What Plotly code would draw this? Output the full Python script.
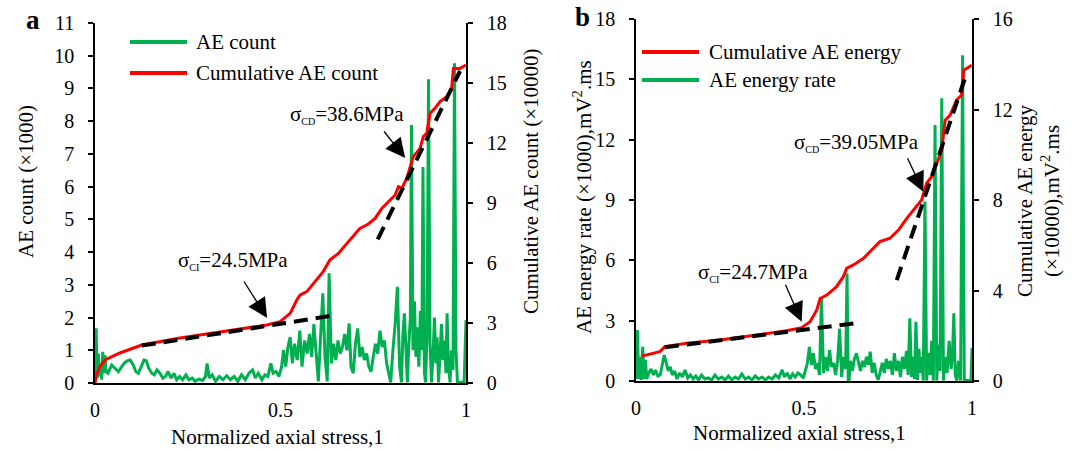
import plotly.graph_objects as go

# ---------------- Panel a: AE count ----------------
a_count_x = [0, 0.003, 0.006, 0.009, 0.012, 0.015, 0.018, 0.021, 0.024, 0.027, 0.03,
             0.035, 0.045, 0.055, 0.063, 0.072, 0.08, 0.088, 0.095, 0.103, 0.11, 0.117,
             0.125, 0.132, 0.138, 0.145, 0.153, 0.16, 0.167, 0.175, 0.183, 0.19, 0.197,
             0.205, 0.213, 0.22, 0.228, 0.236, 0.245, 0.253, 0.262, 0.27, 0.28, 0.29,
             0.298, 0.302, 0.308, 0.316, 0.325, 0.335, 0.345, 0.355, 0.365, 0.375, 0.385,
             0.395, 0.405, 0.415, 0.425, 0.432, 0.44, 0.45, 0.458, 0.466, 0.474, 0.48,
             0.488, 0.496, 0.503, 0.508, 0.514, 0.52, 0.526, 0.532, 0.538, 0.545, 0.552,
             0.558, 0.565, 0.572, 0.578, 0.584, 0.59, 0.596, 0.602, 0.608, 0.614, 0.62,
             0.626, 0.631, 0.637, 0.643, 0.649, 0.655, 0.661, 0.667, 0.673, 0.679, 0.685,
             0.69, 0.696, 0.702, 0.708, 0.714, 0.72, 0.726, 0.732, 0.738, 0.744, 0.75,
             0.756, 0.762, 0.768, 0.774, 0.78, 0.786, 0.792, 0.797, 0.803, 0.809, 0.815,
             0.821, 0.826, 0.83, 0.834, 0.838, 0.842, 0.846, 0.85, 0.853, 0.857, 0.861,
             0.865, 0.869, 0.873, 0.877, 0.881, 0.884, 0.888, 0.891, 0.895, 0.899, 0.903,
             0.907, 0.911, 0.915, 0.919, 0.922, 0.926, 0.93, 0.934, 0.938, 0.942, 0.946,
             0.949, 0.953, 0.957, 0.961, 0.965, 0.969, 0.973, 0.977, 0.983, 0.99, 0.995, 1.0]
a_count = [0.1, 1.67, 0.15, 0.9, 0.2, 0.6, 0.1, 0.95, 0.3, 0.85, 0.35,
           0.3, 0.55, 0.45, 0.35, 0.5, 0.62, 0.68, 0.7, 0.55, 0.35, 0.3,
           0.5, 0.7, 0.68, 0.45, 0.3, 0.25, 0.4, 0.3, 0.15, 0.2, 0.35,
           0.15, 0.3, 0.1, 0.2, 0.1, 0.25, 0.1, 0.15, 0.05, 0.12, 0.08,
           0.2, 0.6, 0.15, 0.25, 0.05, 0.2, 0.1, 0.22, 0.1, 0.2, 0.05,
           0.25, 0.1, 0.3, 0.4, 0.15, 0.3, 0.1, 0.25, 0.2, 0.6, 0.3,
           0.35, 0.2, 0.5, 1.0, 0.5, 1.1, 1.4, 0.6, 1.2, 0.7, 1.6,
           0.5, 1.3, 0.9, 1.5, 0.8, 1.8, 1.0, 0.05, 1.4, 2.74, 0.8,
           0.05, 3.35, 0.6, 1.2, 0.7, 1.3, 0.9, 1.1, 1.5, 1.0, 1.82,
           0.5, 0.3, 1.2, 1.67, 0.8, 1.1, 0.7, 0.9, 0.5, 0.35, 0.8,
           1.2, 0.9, 1.6, 1.1, 1.3, 0.6, 0.3, 0.02, 1.0, 1.8, 2.94,
           0.5, 0.02, 1.5, 2.13, 0.9, 0.02, 1.2, 2.0, 7.88, 1.0, 2.5,
           0.8, 1.7, 0.5, 2.2, 1.0, 6.6, 0.3, 0.02, 1.5, 9.28, 1.2,
           0.02, 0.8, 2.0, 0.6, 1.4, 0.02, 0.9, 1.8, 0.7, 1.3, 0.3,
           2.13, 0.5, 0.02, 1.0, 0.4, 9.77, 1.0, 0.02, 0.02, 0.02, 0.02, 1.92]

a_cum_x = [0, 0.004, 0.013, 0.027, 0.067, 0.126, 0.229, 0.319, 0.409, 0.463, 0.499,
           0.526, 0.544, 0.553, 0.571, 0.588, 0.615, 0.633, 0.656, 0.679, 0.701, 0.714,
           0.737, 0.755, 0.773, 0.791, 0.809, 0.818, 0.827, 0.84, 0.849, 0.858, 0.876,
           0.885, 0.894, 0.903, 0.916, 0.93, 0.948, 0.961, 0.966, 0.984, 1.0]
a_cum = [0, 0.4, 0.8, 1.15, 1.5, 1.9, 2.25, 2.5, 2.75, 2.9, 3.07,
         3.48, 4.15, 4.4, 4.57, 4.98, 5.57, 6.15, 6.48, 6.98, 7.48, 7.73,
         7.95, 8.23, 8.73, 9.07, 9.4, 9.82, 9.73, 10.23, 10.82, 11.32, 11.73,
         12.32, 12.48, 13.48, 13.73, 14.07, 14.32, 14.65, 15.73, 15.73, 15.9]

# tangent lines (initiation / damage stages)
a_fit1_x = [0.126, 0.633]
a_fit1 = [1.87, 3.35]
a_fit2_x = [0.762, 0.984]
a_fit2 = [7.18, 15.6]

# ---------------- Panel b: AE energy ----------------
b_rate_x = [0, 0.004, 0.008, 0.012, 0.016, 0.02, 0.024, 0.028, 0.032, 0.038, 0.045,
            0.052, 0.058, 0.065, 0.072, 0.079, 0.084, 0.09, 0.096, 0.102, 0.108, 0.115,
            0.122, 0.13, 0.138, 0.146, 0.154, 0.162, 0.17, 0.178, 0.186, 0.195, 0.205,
            0.215, 0.225, 0.235, 0.245, 0.255, 0.265, 0.275, 0.285, 0.295, 0.305, 0.315,
            0.325, 0.335, 0.345, 0.355, 0.365, 0.375, 0.385, 0.395, 0.405, 0.415, 0.425,
            0.435, 0.442, 0.45, 0.458, 0.466, 0.474, 0.482, 0.49, 0.498, 0.504, 0.51,
            0.516, 0.522, 0.528, 0.534, 0.54, 0.546, 0.552, 0.558, 0.564, 0.57, 0.576,
            0.582, 0.588, 0.594, 0.6, 0.606, 0.612, 0.618, 0.624, 0.628, 0.632, 0.638,
            0.644, 0.65, 0.656, 0.662, 0.668, 0.674, 0.68, 0.686, 0.692, 0.697, 0.703,
            0.709, 0.715, 0.721, 0.727, 0.733, 0.739, 0.745, 0.751, 0.757, 0.763, 0.769,
            0.775, 0.781, 0.787, 0.793, 0.799, 0.805, 0.81, 0.815, 0.82, 0.825, 0.829,
            0.833, 0.838, 0.842, 0.846, 0.85, 0.855, 0.86, 0.865, 0.87, 0.875, 0.88,
            0.885, 0.89, 0.895, 0.9, 0.905, 0.91, 0.915, 0.92, 0.926, 0.932, 0.938,
            0.942, 0.946, 0.95, 0.955, 0.96, 0.966, 0.972, 0.977, 0.985, 0.992, 0.997, 1.0]
b_rate = [0.1, 2.54, 0.1, 1.2, 0.05, 1.7, 0.1, 1.04, 0.1, 0.4, 0.6,
          0.3, 0.55, 0.25, 0.3, 0.8, 1.29, 0.9, 0.5, 0.7, 0.3, 0.5,
          0.1, 0.4, 0.2, 0.55, 0.15, 0.3, 0.1, 0.25, 0.05, 0.3, 0.1,
          0.15, 0.05, 0.3, 0.1, 0.2, 0.05, 0.25, 0.05, 0.2, 0.1, 0.35,
          0.1, 0.2, 0.05, 0.25, 0.1, 0.2, 0.05, 0.2, 0.1, 0.3, 0.15,
          0.55, 0.2, 0.4, 0.1, 0.35, 0.2, 0.4, 0.3, 0.15, 0.5, 0.88,
          1.7, 0.8, 1.38, 0.6, 0.9, 0.3, 4.1, 0.4, 1.2, 0.5, 1.54,
          0.7, 0.9, 0.3, 1.0, 2.6, 0.2, 1.2, 0.6, 5.36, -0.53, 1.0,
          0.5, 1.1, 1.38, 0.9, 0.5, 1.0, 0.7, 1.2, 0.8, 1.46, 0.4,
          0.9, 0.3, 0.05, 0.5, 0.9, 0.4, 1.1, 0.6, 1.0, 0.3, 1.38,
          0.5, 1.0, 0.2, 1.2, 0.6, 1.5, 0.3, 3.12, 0.2, 1.2, 0.1,
          2.95, 0.05, 1.6, 0.4, 1.2, 0.02, 8.92, 0.02, 1.4, 0.3, 2.0,
          0.02, 12.73, 0.02, 1.8, 0.5, 14.06, 0.02, 1.2, 0.4, 2.0, 0.6,
          1.4, 3.37, 0.3, 0.02, 1.0, 0.02, 16.2, 0.02, 0.02, 0.02, 0.02, 1.64]

b_cum_x = [0.017, 0.071, 0.086, 0.151, 0.25, 0.349, 0.448, 0.493, 0.518, 0.538, 0.548,
           0.568, 0.597, 0.617, 0.627, 0.647, 0.677, 0.696, 0.726, 0.756, 0.781, 0.806,
           0.825, 0.85, 0.865, 0.88, 0.895, 0.91, 0.92, 0.935, 0.954, 0.969, 0.976, 0.999]
b_cum = [1.1, 1.3, 1.52, 1.67, 1.81, 2.03, 2.22, 2.36, 2.62, 3.14, 3.65,
         3.8, 4.17, 4.61, 4.98, 5.13, 5.42, 5.71, 6.16, 6.31, 6.67, 7.19,
         7.56, 8.0, 8.74, 9.03, 9.62, 10.2, 11.53, 11.75, 12.42, 12.64, 13.74, 13.96]

b_fit1_x = [0.086, 0.652]
b_fit1 = [1.49, 2.55]
b_fit2_x = [0.776, 0.984]
b_fit2 = [4.46, 13.6]

x_ticks = [0, 0.5, 1]
x_tick_text = ["0", "0.5", "1"]

GREEN = "#00B050"
RED = "#FF0000"
FONT = "Liberation Serif, Times New Roman, Times, serif"
W, H = 1078, 449


def px(x):
    return x / W


def py(y):
    return 1 - y / H


fig = go.Figure()

# panel a
fig.add_trace(go.Scatter(x=a_count_x, y=a_count, mode="lines", name="AE count",
                         line=dict(color=GREEN, width=3), xaxis="x", yaxis="y"))
fig.add_trace(go.Scatter(x=a_cum_x, y=a_cum, mode="lines", name="Cumulative AE count",
                         line=dict(color=RED, width=3), xaxis="x", yaxis="y2"))
for fx, fy in [(a_fit1_x, a_fit1), (a_fit2_x, a_fit2)]:
    fig.add_trace(go.Scatter(x=fx, y=fy, mode="lines",
                             line=dict(color="black", width=4, dash="14px,8px"),
                             xaxis="x", yaxis="y2"))

# panel b
fig.add_trace(go.Scatter(x=b_rate_x, y=b_rate, mode="lines", name="AE energy rate",
                         line=dict(color=GREEN, width=3), xaxis="x2", yaxis="y3"))
fig.add_trace(go.Scatter(x=b_cum_x, y=b_cum, mode="lines", name="Cumulative AE energy",
                         line=dict(color=RED, width=3), xaxis="x2", yaxis="y4"))
for fx, fy in [(b_fit1_x, b_fit1), (b_fit2_x, b_fit2)]:
    fig.add_trace(go.Scatter(x=fx, y=fy, mode="lines",
                             line=dict(color="black", width=4, dash="14px,8px"),
                             xaxis="x2", yaxis="y4"))

axis_common = dict(showgrid=False, zeroline=False, showline=True, linecolor="black",
                   linewidth=1.5, automargin=False,
                   tickfont=dict(family=FONT, size=20, color="black"))
x_common = dict(axis_common, range=[0, 1], tickvals=x_ticks, ticktext=x_tick_text,
                ticks="", ticklabelstandoff=8)
y_common = dict(axis_common, ticks="outside", ticklen=5, tickwidth=1.5,
                tickcolor="black", ticklabelstandoff=10)

fig.update_layout(
    template="none",
    width=W, height=H, autosize=False,
    margin=dict(l=0, r=0, t=0, b=0, pad=0),
    paper_bgcolor="white", plot_bgcolor="white",
    showlegend=False,
    font=dict(family=FONT, size=21, color="black"),
    xaxis=dict(x_common, domain=[px(95), px(466)], anchor="y"),
    yaxis=dict(y_common, domain=[py(383), py(23)], range=[0, 11], dtick=1, anchor="x"),
    yaxis2=dict(y_common, overlaying="y", side="right", anchor="x", range=[0, 18], dtick=3),
    xaxis2=dict(x_common, domain=[px(636), px(972)], anchor="y3"),
    yaxis3=dict(y_common, domain=[py(381), py(19)], range=[0, 18], dtick=3, anchor="x2"),
    yaxis4=dict(y_common, overlaying="y3", side="right", anchor="x2", range=[0, 16], dtick=4),
)

# hand-placed legends
legend_items = [
    (130, 187, 42, GREEN, "AE count", 194),
    (130, 187, 73, RED, "Cumulative AE count", 194),
    (642, 699, 52, RED, "Cumulative AE energy", 707),
    (642, 699, 80, GREEN, "AE energy rate", 707),
]
for x0, x1, yy, col, label, tx in legend_items:
    fig.add_shape(type="line", xref="paper", yref="paper", x0=px(x0), x1=px(x1),
                  y0=py(yy), y1=py(yy), line=dict(color=col, width=4))
    fig.add_annotation(xref="paper", yref="paper", x=px(tx), y=py(yy), text=label,
                       showarrow=False, xanchor="left", yanchor="middle",
                       font=dict(family=FONT, size=21))

# axis titles
titles = [
    (26, 182, "AE count (×1000)"),
    (531, 181, "Cumulative AE count (×10000)"),
    (582, 197, "AE energy rate (×1000),mV<sup>2</sup>.ms"),
    (1038, 201, "Cumulative AE energy<br>(×10000),mV<sup>2</sup>.ms"),
]
for tx, ty, t in titles:
    fig.add_annotation(xref="paper", yref="paper", x=px(tx), y=py(ty), text=t,
                       textangle=-90, showarrow=False, xanchor="center", yanchor="middle",
                       font=dict(family=FONT, size=21))
for tx, ty in [(277, 437), (799, 433)]:
    fig.add_annotation(xref="paper", yref="paper", x=px(tx), y=py(ty),
                       text="Normalized axial stress,1", showarrow=False,
                       xanchor="center", yanchor="middle", font=dict(family=FONT, size=21))

# panel letters
for tx, ty, t in [(33, 20, "a"), (582, 17, "b")]:
    fig.add_annotation(xref="paper", yref="paper", x=px(tx), y=py(ty), text=f"<b>{t}</b>",
                       showarrow=False, xanchor="center", yanchor="middle",
                       font=dict(family=FONT, size=27))

# characteristic stress labels and arrows
def sigma(sub, val):
    return f"σ<sub><span style='font-size:10px'>{sub}</span></sub>={val}MPa"

stress_marks = [
    ("x", "y2", 0.372, 6.15, sigma("CI", "24.5"), (0.399, 5.15), (0.464, 3.25)),
    ("x", "y2", 0.679, 13.4, sigma("CD", "38.6"), (0.776, 12.65), (0.836, 11.25)),
    ("x2", "y4", 0.348, 4.79, sigma("CI", "24.7"), (0.443, 4.32), (0.493, 2.62)),
    ("x2", "y4", 0.655, 10.52, sigma("CD", "39.05"), (0.806, 9.91), (0.855, 8.37)),
]
for xr, yr, tx, ty, t, tail, tip in stress_marks:
    fig.add_annotation(xref=xr, yref=yr, x=tx, y=ty, text=t, showarrow=False,
                       xanchor="center", yanchor="middle", font=dict(family=FONT, size=21))
    fig.add_annotation(xref=xr, yref=yr, x=tip[0], y=tip[1], ax=tail[0], ay=tail[1],
                       axref=xr, ayref=yr, text="", showarrow=True, arrowhead=2,
                       arrowsize=3, arrowwidth=1.3, arrowcolor="black", standoff=0)

fig.write_html("out.html", config={"displayModeBar": False})
